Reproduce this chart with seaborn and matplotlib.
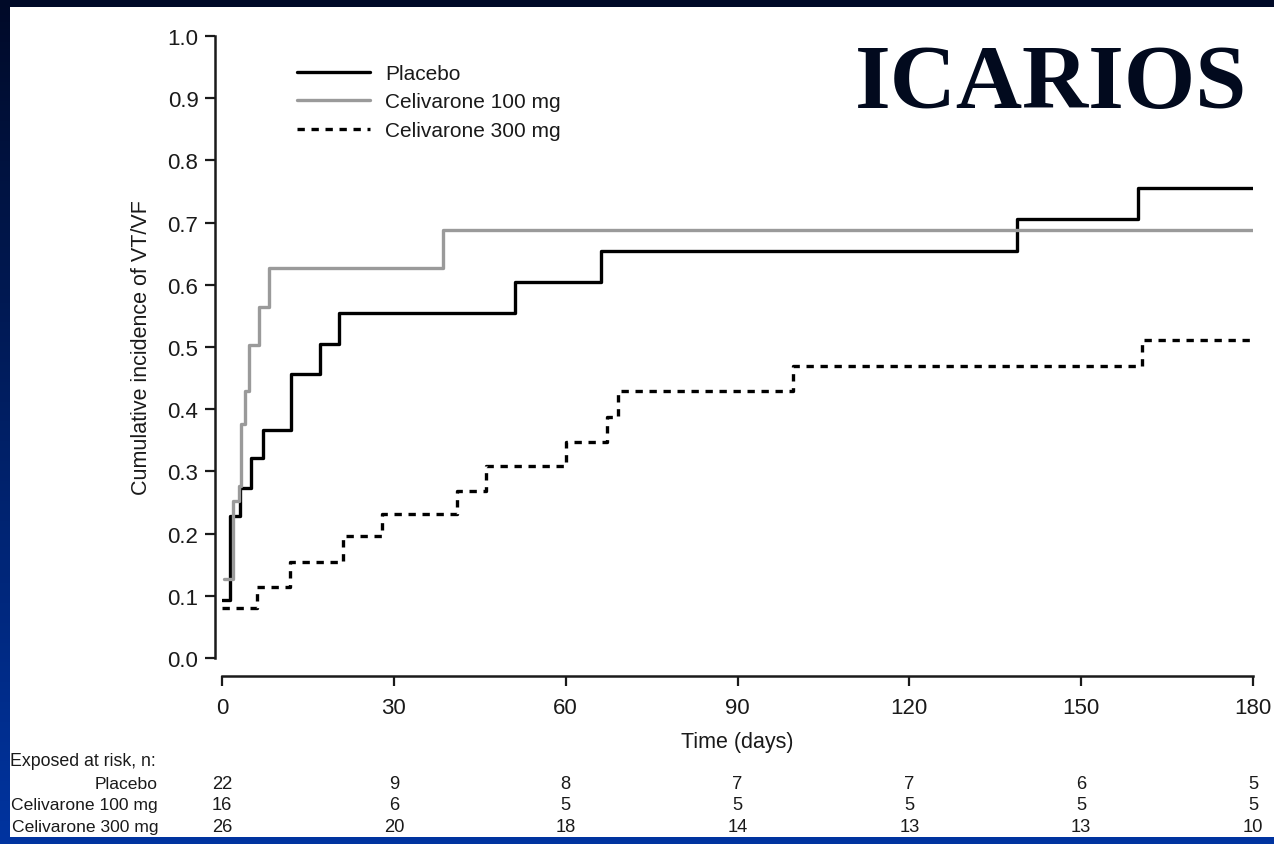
import numpy as np
import pandas as pd
import seaborn as sns
import matplotlib.pyplot as plt
from matplotlib.patches import Rectangle
from matplotlib.transforms import blended_transform_factory

# step curves (day, cumulative incidence)
placebo_days = [0, 1.4, 3.1, 5.1, 7.2, 12.0, 17.1, 20.4, 51.2, 66.2, 138.8, 159.9, 180]
placebo_inc = [0.093, 0.228, 0.274, 0.321, 0.366, 0.457, 0.505, 0.555, 0.605, 0.655, 0.705, 0.755, 0.755]

cel100_days = [0.3, 2.0, 2.9, 3.3, 4.1, 4.8, 6.4, 8.2, 38.6, 180]
cel100_inc = [0.127, 0.252, 0.276, 0.377, 0.429, 0.504, 0.565, 0.627, 0.688, 0.688]

cel300_days = [0, 6.1, 11.9, 21.1, 27.9, 41.0, 46.1, 60.1, 67.2, 69.1, 99.7, 160.6, 180]
cel300_inc = [0.080, 0.114, 0.154, 0.196, 0.231, 0.268, 0.308, 0.347, 0.388, 0.430, 0.470, 0.512, 0.512]

groups = ['Placebo', 'Celivarone 100 mg', 'Celivarone 300 mg']
risk_days = [0, 30, 60, 90, 120, 150, 180]
risk_placebo = [22, 9, 8, 7, 7, 6, 5]
risk_cel100 = [16, 6, 5, 5, 5, 5, 5]
risk_cel300 = [26, 20, 18, 14, 13, 13, 10]

sns.set_style("ticks")
plt.rcParams['font.family'] = ['Liberation Sans', 'DejaVu Sans']

fig = plt.figure(figsize=(12.74, 8.45), dpi=100)

# slide background: navy gradient with a white panel
bg = fig.add_axes([0, 0, 1, 1], zorder=-10)
grad = np.linspace(0, 1, 256)[:, None, None]
top = np.array([0, 10, 40]) / 255
bottom = np.array([0, 52, 160]) / 255
img = top + (bottom - top) * grad
bg.imshow(np.repeat(img, 2, axis=1), aspect='auto', extent=[0, 1, 0, 1])
bg.add_patch(Rectangle((10 / 1274, 1 - 838 / 845), 1, (838 - 8) / 845,
                       facecolor='white', edgecolor='none'))
bg.set_xlim(0, 1)
bg.set_ylim(0, 1)
bg.axis('off')

ax = fig.add_axes([222 / 1274, 1 - 659 / 845, (1253 - 222) / 1274, (659 - 37) / 845])
ax.set_facecolor('none')

series = [
    (placebo_days, placebo_inc, 'black', '-'),
    (cel100_days, cel100_inc, '#9a9a9a', '-'),
    (cel300_days, cel300_inc, 'black', (0, (2.2, 2.0))),
]
for name, (d, v, c, ls) in zip(groups, series):
    df = pd.DataFrame({'day': d, 'inc': v})
    sns.lineplot(data=df, x='day', y='inc', ax=ax, color=c, linestyle=ls,
                 linewidth=2.4, drawstyle='steps-post', label=name)

ax.set_xlim(0, 180)
ax.set_ylim(0, 1.0)
ax.set_xticks(risk_days)
ax.set_yticks(np.arange(0, 1.01, 0.1))
ax.set_yticklabels([f'{t:.1f}' for t in np.arange(0, 1.01, 0.1)])
ax.tick_params(labelsize=16, length=7, width=1.6, pad=5, colors='#1a1a1a')
ax.tick_params(axis='x', pad=8)
for s in ['left', 'bottom']:
    ax.spines[s].set_linewidth(1.8)
    ax.spines[s].set_color('#1a1a1a')
sns.despine(ax=ax)
ax.spines['left'].set_position(('outward', 5))
ax.spines['bottom'].set_position(('outward', 13))

ax.set_xlabel('Time (days)', fontsize=15.5, color='#1a1a1a')
ax.set_ylabel('Cumulative incidence of VT/VF', fontsize=15.5, color='#1a1a1a')
ax.xaxis.set_label_coords(0.5, -0.117)
ax.yaxis.set_label_coords(-0.068, 0.5)

leg = ax.legend(loc='upper left', bbox_to_anchor=(0.055, 0.985), frameon=False,
                fontsize=15, handlelength=3.5, handletextpad=0.7, labelspacing=0.45)
for t in leg.get_texts():
    t.set_color('#1a1a1a')

fig.text(1247 / 1274, 1 - 86 / 845, 'ICARIOS', family='Liberation Serif',
         weight='bold', fontsize=66, color='#020a1e', ha='right', va='center')

# at-risk table
tr = blended_transform_factory(ax.transData, fig.transFigure)
fig.text(10 / 1274, 1 - 762 / 845, 'Exposed at risk, n:', fontsize=12.8,
         color='#1a1a1a', va='center', ha='left')
rows = [risk_placebo, risk_cel100, risk_cel300]
row_y = [785, 806, 828]
for name, counts, yy in zip(groups, rows, row_y):
    fig.text(158 / 1274, 1 - yy / 845, name, fontsize=12.6, color='#1a1a1a',
             ha='right', va='center')
    for d, n in zip(risk_days, counts):
        ax.text(d, 1 - yy / 845, str(n), transform=tr, fontsize=13.2,
                color='#1a1a1a', ha='center', va='center', clip_on=False)

fig.savefig('out.png', dpi=100)
